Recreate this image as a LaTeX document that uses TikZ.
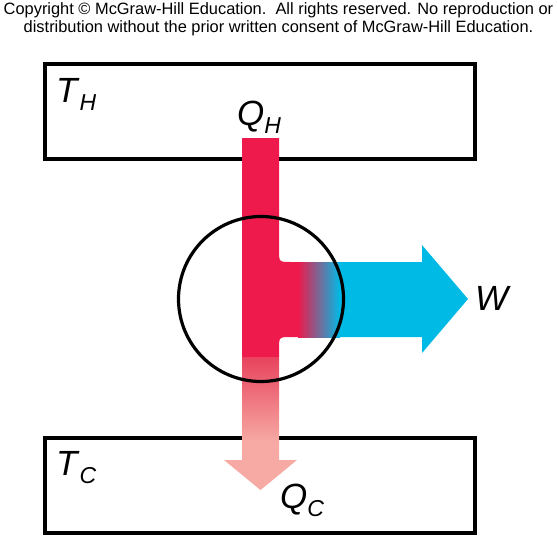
\documentclass[tikz,border=0pt]{standalone}
\usepackage{fontspec}
\setmainfont{Liberation Sans}
\usetikzlibrary{positioning}
\definecolor{heatred}{HTML}{ED1A4B}
\definecolor{fadered}{HTML}{E8435E}
\definecolor{coldpink}{HTML}{F6AAA3}
\definecolor{workblue}{HTML}{00BAE6}
\newcommand{\heatlabel}[2]{\textit{#1}\raisebox{-8pt}{\fontsize{23}{23}\selectfont\textit{#2}}}

\begin{document}
\begin{tikzpicture}[x=1pt,y=-1pt,
    reservoir/.style={draw, line width=3.4pt, fill=white, minimum width=430pt, minimum height=95pt, inner sep=0pt},
    engine/.style={draw, line width=3.2pt, circle, minimum size=165pt, inner sep=0pt},
    biglabel/.style={font=\fontsize{35}{35}\selectfont, inner sep=0pt, anchor=base west}]
  \useasboundingbox (0,0) rectangle (557,539);
  \node[align=center, font=\fontsize{16.4}{18.5}\selectfont] (notice) at (278.5,19.5)
    {Copyright \textcopyright{} McGraw-Hill Education.\ \ All rights reserved. No reproduction or\\
     distribution without the prior written consent of McGraw-Hill Education.};
  % reservoirs
  \node[reservoir] (hot) at (260,111.5) {};
  \node[reservoir] (cold) at (260,485.5) {};
  % heat in, split to work
  \fill[heatred] (242,138) -- (279,138) -- (279,250) .. controls (279,262) .. (291,262)
    -- (300,262) -- (300,337) -- (291,337) .. controls (279,337) .. (279,349)
    -- (279,357) -- (242,357) -- cycle;
  \shade[left color=heatred, right color=workblue] (298,262) rectangle (340,337);
  \fill[workblue] (339,262) -- (422,262) -- (422,245) -- (468,299) -- (422,353) -- (422,337) -- (339,337) -- cycle;
  % heat out
  \shade[top color=fadered, bottom color=coldpink] (242,357) rectangle (279,442);
  \fill[coldpink] (242,441) -- (279,441) -- (279,460) -- (297,460) -- (260.5,490) -- (224,460) -- (242,460) -- cycle;
  \node[engine] (eng) at (261,299) {};
  % labels
  \node[biglabel] (th) at (56,102) {\heatlabel{T}{H}};
  \node[biglabel] (qh) at (237,125) {\heatlabel{Q}{H}};
  \node[biglabel] (w) at (475,310) {\textit{W}};
  \node[biglabel] (tc) at (56,475) {\heatlabel{T}{C}};
  \node[biglabel] (qc) at (280,508) {\heatlabel{Q}{C}};
\end{tikzpicture}
\end{document}
